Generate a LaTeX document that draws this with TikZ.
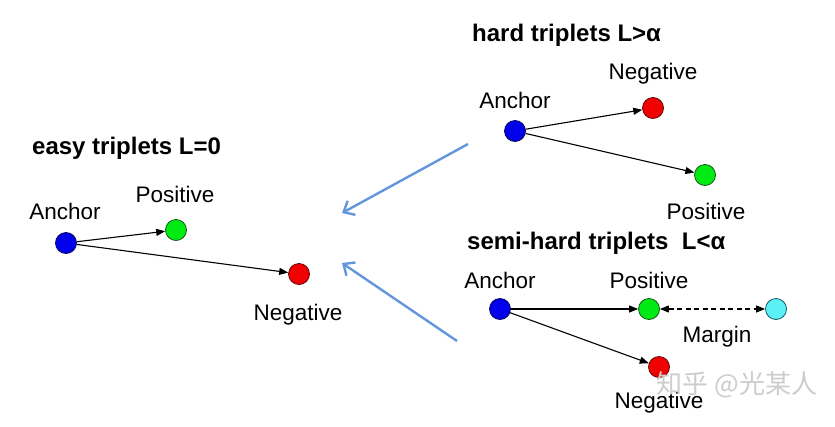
\documentclass[tikz,border=0pt]{standalone}
\usepackage{fontspec}
\setmainfont{Liberation Sans}
\newfontfamily\cjkfont{Noto Sans CJK SC}
\usetikzlibrary{arrows.meta}
\definecolor{bluedot}{RGB}{0,0,235}
\definecolor{bluedraw}{RGB}{10,10,90}
\definecolor{greendot}{RGB}{0,235,20}
\definecolor{greendraw}{RGB}{20,90,20}
\definecolor{reddot}{RGB}{240,0,0}
\definecolor{reddraw}{RGB}{100,10,10}
\definecolor{cyandot}{RGB}{90,240,245}
\definecolor{cyandraw}{RGB}{20,90,100}
\definecolor{flowblue}{RGB}{100,150,222}
\definecolor{wmgray}{RGB}{205,205,205}
\tikzset{
  dot/.style={circle, minimum size=21pt, inner sep=0pt, line width=0.8pt},
  anchordot/.style={dot, fill=bluedot, draw=bluedraw},
  posdot/.style={dot, fill=greendot, draw=greendraw},
  negdot/.style={dot, fill=reddot, draw=reddraw},
  margindot/.style={dot, fill=cyandot, draw=cyandraw},
  lbl/.style={font=\fontsize{22.5}{26}\selectfont, inner sep=0pt},
  ttl/.style={font=\fontsize{24}{28}\selectfont\bfseries, inner sep=0pt, anchor=west},
  link/.style={line width=1.1pt, -{Triangle[length=9pt,width=7pt]}},
  flow/.style={flowblue, line width=2.4pt, -{Straight Barb[length=9pt,width=16pt,line width=2.4pt]}}
}
\begin{document}
\begin{tikzpicture}[x=1pt,y=-1pt]
\useasboundingbox (0,0) rectangle (835,426);
\fill[white] (0,0) rectangle (835,426);
% easy
\node[ttl] (et) at (32,148) {easy triplets L=0};
\node[lbl] (eal) at (65,211) {Anchor};
\node[anchordot] (ea) at (66,243) {};
\node[lbl] (epl) at (175,194) {Positive};
\node[posdot] (ep) at (176,230) {};
\node[negdot] (en) at (299,274) {};
\node[lbl] (enl) at (298,315) {Negative};
\draw[link] (ea) -- (ep);
\draw[link] (ea) -- (en);
% hard
\node[ttl] (ht) at (472,35) {hard triplets L>α};
\node[lbl] (hal) at (515,100) {Anchor};
\node[anchordot] (ha) at (515,131) {};
\node[lbl] (hnl) at (653,74) {Negative};
\node[negdot] (hn) at (653,108) {};
\node[posdot] (hp) at (705,175) {};
\node[lbl] (hpl) at (706,211) {Positive};
\draw[link] (ha) -- (hn);
\draw[link] (ha) -- (hp);
% semi-hard
\node[ttl] (st) at (467,243) {semi-hard triplets\ \ L<α};
\node[lbl] (sal) at (500,280) {Anchor};
\node[anchordot] (sa) at (500,309) {};
\node[lbl] (spl) at (649,280) {Positive};
\node[posdot] (sp) at (649,309) {};
\node[margindot] (sc) at (776,309) {};
\node[lbl] (sml) at (717,337) {Margin};
\node[negdot] (sn) at (659,367) {};
\node[lbl] (snl) at (659,403) {Negative};
\draw[link] (sa) -- (sp);
\draw[link] (sa) -- (sn);
\draw[line width=1.1pt, dash pattern=on 5pt off 3.5pt, {Triangle[length=9pt,width=7pt]}-{Triangle[length=9pt,width=7pt]}] (sp) -- (sc);
% flow arrows
\coordinate (f1s) at (468,144);
\coordinate (f1e) at (342,213);
\coordinate (f2s) at (457,341);
\coordinate (f2e) at (342,263);
\draw[flow] (f1s) -- (f1e);
\draw[flow] (f2s) -- (f2e);
% watermark
\node[font=\cjkfont\fontsize{26}{30}\selectfont, text=wmgray, inner sep=0pt] (wm) at (737,385) {知乎 @光某人};
\end{tikzpicture}
\end{document}
